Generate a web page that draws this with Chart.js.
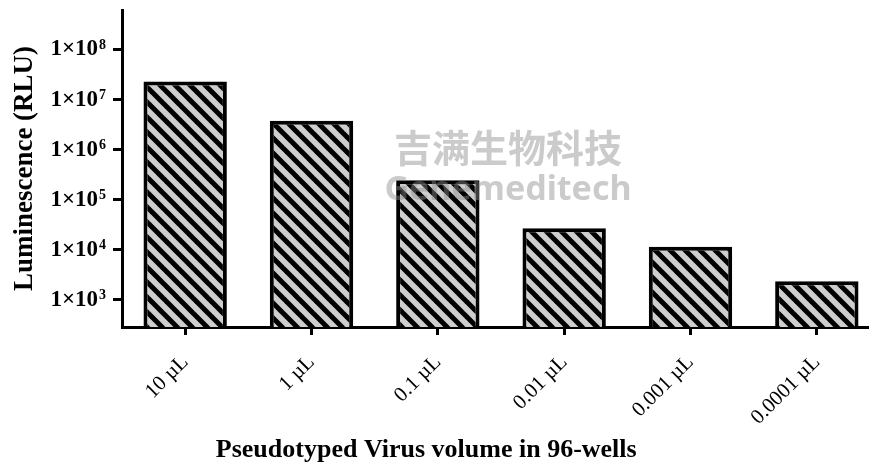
<!DOCTYPE html>
<html>
<head>
<meta charset="utf-8">
<script src="https://cdn.jsdelivr.net/npm/chart.js@4/dist/chart.umd.min.js"></script>
<style>
  html, body { margin: 0; padding: 0; background: #fff; overflow: hidden; }
  #wrap { width: 880px; height: 470px; }
</style>
</head>
<body>
<div id="wrap"><canvas id="rluChart" width="880" height="470"></canvas></div>
<script>
// chart data
const volumes = ['10 µL', '1 µL', '0.1 µL', '0.01 µL', '0.001 µL', '0.0001 µL'];
const rluValues = [2.3e7, 3.8e6, 2.45e5, 2.7e4, 1.15e4, 2.35e3];
const yTickValues = [1e3, 1e4, 1e5, 1e6, 1e7, 1e8];

const serif = "'Times New Roman', 'Liberation Serif', serif";

// diagonal hatch fill like the original figure
const makeHatch = () => {
    const s = 15;
    const tile = document.createElement('canvas');
    tile.width = s;
    tile.height = s;
    const c = tile.getContext('2d');
    c.fillStyle = '#cecece';
    c.fillRect(0, 0, s, s);
    c.strokeStyle = '#000';
    c.lineWidth = 5;
    for (const off of [-s, 0, s]) {
        c.beginPath();
        c.moveTo(off - 2, -2);
        c.lineTo(off + s + 2, s + 2);
        c.stroke();
    }
    return c.createPattern(tile, 'repeat');
};

// exponents of the "1×10^n" tick labels, drawn next to the library's own labels
const exponents = {
    id: 'exponents',
    afterDraw(chart) {
        const y = chart.scales.y;
        const ctx = chart.ctx;
        ctx.save();
        ctx.fillStyle = '#000';
        ctx.font = 'bold 14px ' + serif;
        ctx.textAlign = 'left';
        ctx.textBaseline = 'alphabetic';
        yTickValues.forEach((v) => {
            const py = y.getPixelForValue(v);
            ctx.fillText(String(Math.round(Math.log10(v))), 99, py - 1);
        });
        ctx.restore();
    }
};

const watermark = {
    id: 'watermark',
    afterDatasetsDraw(chart) {
        const ctx = chart.ctx;
        ctx.save();
        ctx.fillStyle = 'rgba(140,140,140,0.45)';
        ctx.textAlign = 'center';
        ctx.textBaseline = 'middle';
        ctx.font = "bold 38px 'Noto Sans CJK SC'";
        ctx.fillText('吉满生物科技', 508, 148);
        ctx.font = "bold 34px 'Noto Sans', sans-serif";
        ctx.fillText('Genemeditech', 508, 190);
        ctx.restore();
    }
};

const ctx = document.getElementById('rluChart').getContext('2d');

new Chart(ctx, {
    type: 'bar',
    data: {
        labels: volumes,
        datasets: [{
            data: rluValues,
            backgroundColor: makeHatch(),
            borderColor: '#000',
            borderWidth: 4,
            barPercentage: 0.66,
            categoryPercentage: 1.0
        }]
    },
    options: {
        responsive: false,
        animation: false,
        layout: { padding: { top: 10, left: 0, right: 0, bottom: 0 } },
        plugins: {
            legend: { display: false },
            tooltip: { enabled: false }
        },
        scales: {
            x: {
                afterFit: (scale) => {
                    scale.height = 143;
                    scale.paddingLeft = 0;
                    scale.paddingRight = 0;
                },
                grid: { drawOnChartArea: false, drawTicks: true, offset: false, tickLength: 8, lineWidth: 3, color: '#000' },
                border: { display: true, color: '#000', width: 3 },
                ticks: {
                    autoSkip: false,
                    minRotation: 45,
                    maxRotation: 45,
                    padding: 15,
                    color: '#000',
                    font: { family: serif, size: 21 }
                },
                title: {
                    display: true,
                    // trailing spaces move the centred title left, as in the figure
                    text: 'Pseudotyped Virus volume in 96-wells' + '\u00a0'.repeat(23),
                    color: '#000',
                    padding: { top: 0, bottom: 4 },
                    font: { family: serif, size: 26, weight: 'bold' }
                }
            },
            y: {
                type: 'logarithmic',
                min: Math.pow(10, 2.46),
                max: Math.pow(10, 8.79),
                afterFit: (scale) => {
                    scale.width = 122;
                    scale.paddingTop = 0;
                    scale.paddingBottom = 0;
                },
                afterBuildTicks: (scale) => {
                    scale.ticks = yTickValues.map((v) => ({ value: v }));
                },
                grid: { drawOnChartArea: false, drawTicks: true, tickLength: 9, lineWidth: 3, color: '#000' },
                border: { display: true, color: '#000', width: 3 },
                ticks: {
                    padding: 15,
                    color: '#000',
                    font: { family: serif, size: 23, weight: 'bold' },
                    callback: () => '1×10'
                },
                title: {
                    display: true,
                    text: 'Luminescence (RLU)',
                    color: '#000',
                    padding: { top: 9, bottom: 0 },
                    font: { family: serif, size: 27, weight: 'bold' }
                }
            }
        }
    },
    plugins: [exponents, watermark]
});
</script>
</body>
</html>
